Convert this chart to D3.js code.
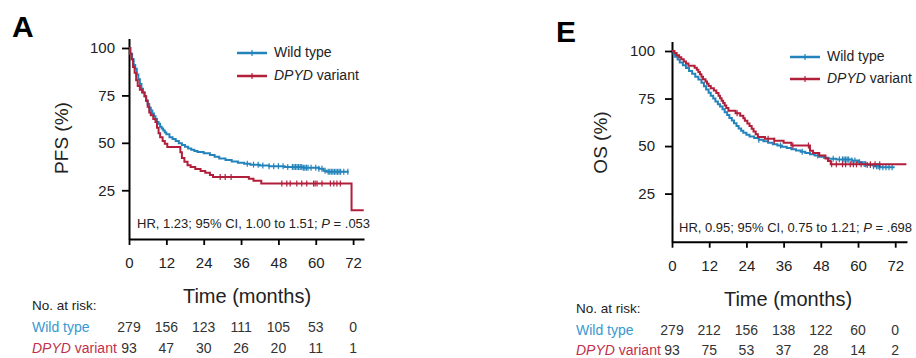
<!DOCTYPE html>
<html>
<head>
<meta charset="utf-8">
<script src="https://cdn.jsdelivr.net/npm/d3@7"></script>
<style>
  html, body { margin: 0; padding: 0; background: #fff; }
  svg { display: block; font-family: "Liberation Sans", Arial, Helvetica, sans-serif; }
</style>
</head>
<body>
<svg id="chart" width="916" height="358"></svg>
<script>
// Kaplan–Meier step points: [month, survival %]; the last pair is the end of follow-up.
const pfsWildSteps = [
  [0,100],[0.5,97],[1,94],[1.5,91],[2,89],[2.5,86],[3,83.5],[3.5,81],[4,78.5],[4.5,76.5],
  [5,74.5],[5.5,72.5],[6,70.5],[6.5,68.5],[7,67],[7.5,65.5],[8,64],[8.5,62.5],[9,61],[9.5,60],
  [10,58.5],[10.5,57.5],[11,56.5],[11.5,55.5],[12,54.5],[13,53],[14,52],[15,51],[16,49.8],[17,48.8],
  [18,47.9],[19,47],[20,46.3],[21,45.7],[22,45.2],[24,44.5],[26,43.6],[27.5,42.6],[29,41.8],[31,40.9],
  [33,40.2],[35,39.5],[37,39],[39,38.5],[42,38.1],[45,37.7],[50,37.3],[56,36.9],[61,36.4],[62.5,35.3],
  [63.5,34.7],[70.6,34.7]
];
const pfsVariantSteps = [
  [0,100],[0.3,97],[0.8,94],[1.3,90],[1.8,87],[2.3,83],[2.8,80],[3.5,78],[4.2,76.5],[5,74.5],
  [5.5,72],[6,69],[6.5,66],[7,64.5],[7.8,62.5],[8.5,61],[9,58],[9.5,55],[10,53],[10.8,51],
  [11.5,49.5],[12.3,47.8],[16.5,45],[17,42],[17.8,40],[18.8,38.2],[19.8,37.2],[21.3,36.2],[23,35.2],[24.5,34.2],
  [26,33],[27,32],[38.5,31],[40,30],[42.5,28.5],[71.5,14.4],[75.4,14.4]
];
const osWildSteps = [
  [0,100],[0.5,98.5],[1,97],[1.8,95.5],[2.5,94],[3.5,92.5],[4.5,91],[5.5,89.5],[6.5,88],[7.5,86.5],
  [8.5,85],[9.5,83.3],[10.3,81.5],[11,79.8],[11.8,78],[12.5,76.5],[13.3,75],[14,73.5],[14.8,72],[15.5,70.8],
  [16.3,69.3],[17,67.8],[17.8,66.3],[18.5,64.8],[19.3,63.5],[20,62],[20.8,60.5],[21.5,59.2],[22.3,58],[23,57],
  [24,56],[25,55],[26.5,54.2],[28,53.3],[29.5,52.5],[31,51.8],[32.5,51],[34,50.3],[35.5,49.6],[37,49],
  [38.5,48.3],[40,47.7],[41.5,47],[43,46.3],[44.5,45.7],[46,45],[47.5,44.4],[49,43.8],[50.5,43.3],[53,43],
  [58,42.4],[60,41.5],[61.5,40.6],[63,40],[65,39.4],[67,38.8],[71.8,38.8]
];
const osVariantSteps = [
  [0,100],[0.8,98.9],[1.5,97.8],[2.3,96.7],[3,95.6],[3.8,94.5],[4.5,93.4],[5.3,92.3],[7.3,91.2],[8,90.1],
  [8.5,88.9],[9,87.8],[9.5,86.5],[10,85.2],[10.8,84],[11.3,82.8],[11.8,81.6],[12.5,80.4],[13.5,79.2],[14.3,77.9],
  [15,76.5],[15.5,75.2],[16,73.9],[16.5,72.6],[17,71.3],[17.5,70],[18.2,68.6],[20.5,67.3],[22,66],[23,64.6],
  [23.5,63.3],[24.3,61.9],[25,60.5],[25.7,59.1],[26.3,57.7],[27,56.2],[27.7,54.8],[30,53.8],[33,52.8],[36,51.8],
  [38.5,50.3],[44.5,47.5],[45.5,46.3],[47.5,45],[49.5,43.5],[50.3,42.1],[51.2,40.4],[75.6,40.4]
];

// Censoring times (months)
const pfsWildCensor = [38,40,41.5,43,45,46.5,48,49.5,51,52.5,53,53.5,54,54.5,55,55.5,56,56.5,57,57.5,
  58.5,60,61,62,63,64,64.5,65,65.5,66,66.5,67,67.5,68,69,70.3];
const pfsVariantCensor = [29.3,30.9,32.8,49.1,50.7,51.8,53.9,55.5,57.1,59.3,59.8,60.4,62,64.7,65.8,66.8,67.9];
const osWildCensor = [28,35,42,47,52,54,55,55.5,56,56.5,57,58,59,60.5,62,63,64,65,66,66.5,67,68,69,70,71];
const osVariantCensor = [21,31,33,39,44,51.5,53,55,56,57.5,58.5,59.5,61,62.5,64,65.5,67];

const timeTicks = [0, 12, 24, 36, 48, 60, 72];
const survTicks = [25, 50, 75, 100];
const groupNames = ["Wild type", "DPYD variant"];
const pfsRiskWild = [279, 156, 123, 111, 105, 53, 0];
const pfsRiskVariant = [93, 47, 30, 26, 20, 11, 1];
const osRiskWild = [279, 212, 156, 138, 122, 60, 0];
const osRiskVariant = [93, 75, 53, 37, 28, 14, 2];
const pfsStats = { hr: "1.23", ci: "1.00 to 1.51", p: ".053" };
const osStats = { hr: "0.95", ci: "0.75 to 1.21", p: ".698" };

const BLUE = "#2383bb", RED = "#b11f3b";
const BLUE_TXT = "#3a98cf", RED_TXT = "#c0304b";
const INK = "#222";

const panels = [
  {
    letter: "A", letterPos: [12, 37], yLabel: "PFS (%)", yLabelPos: [68, 138],
    xDomain: [0, 75.5], xRange: [129, 364], yDomain: [-0.7, 105], yRange: [239, 38.5],
    xPad: 12, yPad: 7,
    wild: pfsWildSteps, variant: pfsVariantSteps, wildCensor: pfsWildCensor, variantCensor: pfsVariantCensor,
    legend: { x: 237, y: [53, 76] }, stats: pfsStats, statsPos: [137, 228],
    timeLabelPos: [247, 303], riskHeaderY: 310, riskRowsY: [332, 353], riskLabelX: 32,
    riskWild: pfsRiskWild, riskVariant: pfsRiskVariant
  },
  {
    letter: "E", letterPos: [556, 42], yLabel: "OS (%)", yLabelPos: [607, 142.5],
    xDomain: [0, 75.8], xRange: [672, 907], yDomain: [-0.3, 105], yRange: [241.7, 41.5],
    xPad: 13, yPad: 10,
    wild: osWildSteps, variant: osVariantSteps, wildCensor: osWildCensor, variantCensor: osVariantCensor,
    legend: { x: 790, y: [57, 79] }, stats: osStats, statsPos: [679, 231.5],
    timeLabelPos: [788, 306], riskHeaderY: 313, riskRowsY: [334.5, 354.5], riskLabelX: 576,
    riskWild: osRiskWild, riskVariant: osRiskVariant
  }
];

const svg = d3.select("#chart");

function valueAt(steps, t) {
  let v = steps[0][1];
  for (const [s, val] of steps) { if (s <= t) v = val; else break; }
  return v;
}

function groupLabel(sel, name, color) {
  // "DPYD" is set in italics
  if (name.startsWith("DPYD")) {
    sel.append("tspan").attr("font-style", "italic").attr("fill", color).text("DPYD");
    sel.append("tspan").attr("fill", color).text(name.slice(4));
  } else {
    sel.append("tspan").attr("fill", color).text(name);
  }
}

panels.forEach(p => {
  const g = svg.append("g");
  const x = d3.scaleLinear().domain(p.xDomain).range(p.xRange);
  const y = d3.scaleLinear().domain(p.yDomain).range(p.yRange);

  // panel letter
  g.append("text").attr("x", p.letterPos[0]).attr("y", p.letterPos[1])
    .attr("font-size", 30).attr("font-weight", "bold").attr("fill", "#000").text(p.letter);

  // axes
  const yAxis = g.append("g").attr("transform", `translate(${p.xRange[0]},0)`)
    .call(d3.axisLeft(y).tickValues(survTicks).tickSize(7).tickSizeOuter(0).tickPadding(p.yPad));
  const xAxis = g.append("g").attr("transform", `translate(0,${p.yRange[0]})`)
    .call(d3.axisBottom(x).tickValues(timeTicks).tickSize(6).tickSizeOuter(0).tickPadding(p.xPad));
  [yAxis, xAxis].forEach(a => {
    a.select(".domain").attr("stroke", "#000").attr("stroke-width", 2);
    a.selectAll(".tick line").attr("stroke", "#000").attr("stroke-width", 1.8);
    a.selectAll(".tick text").attr("fill", INK).attr("font-size", 15)
      .attr("font-family", "'Liberation Sans', Arial, sans-serif");
  });

  // y label
  g.append("text").attr("transform", `translate(${p.yLabelPos[0]},${p.yLabelPos[1]}) rotate(-90)`)
    .attr("text-anchor", "middle").attr("font-size", 19).attr("fill", INK).text(p.yLabel);

  // survival curves
  const line = d3.line().x(d => x(d[0])).y(d => y(d[1])).curve(d3.curveStepAfter);
  const series = [
    { steps: p.wild, censor: p.wildCensor, color: BLUE },
    { steps: p.variant, censor: p.variantCensor, color: RED }
  ];
  series.forEach(s => {
    g.append("path").datum(s.steps).attr("d", line)
      .attr("fill", "none").attr("stroke", s.color).attr("stroke-width", 2);
    g.selectAll(null).data(s.censor).join("line")
      .attr("x1", d => x(d)).attr("x2", d => x(d))
      .attr("y1", d => y(valueAt(s.steps, d)) - 3).attr("y2", d => y(valueAt(s.steps, d)) + 3)
      .attr("stroke", s.color).attr("stroke-width", 1.2);
  });

  // legend
  [BLUE, RED].forEach((c, i) => {
    const ly = p.legend.y[i];
    g.append("line").attr("x1", p.legend.x).attr("x2", p.legend.x + 30)
      .attr("y1", ly).attr("y2", ly).attr("stroke", c).attr("stroke-width", 2.5);
    g.append("line").attr("x1", p.legend.x + 15).attr("x2", p.legend.x + 15)
      .attr("y1", ly - 3).attr("y2", ly + 3).attr("stroke", c).attr("stroke-width", 1.2);
    const t = g.append("text").attr("x", p.legend.x + 37).attr("y", ly + 4)
      .attr("font-size", 14);
    groupLabel(t, groupNames[i], INK);
  });

  // hazard ratio annotation
  const st = g.append("text").attr("x", p.statsPos[0]).attr("y", p.statsPos[1])
    .attr("font-size", 13).attr("fill", INK);
  st.append("tspan").text(`HR, ${p.stats.hr}; 95% CI, ${p.stats.ci}; `);
  st.append("tspan").attr("font-style", "italic").text("P");
  st.append("tspan").text(` = ${p.stats.p}`);

  // x label
  g.append("text").attr("x", p.timeLabelPos[0]).attr("y", p.timeLabelPos[1])
    .attr("text-anchor", "middle").attr("font-size", 20).attr("fill", INK).text("Time (months)");

  // number at risk table
  g.append("text").attr("x", p.riskLabelX).attr("y", p.riskHeaderY)
    .attr("font-size", 13.5).attr("fill", INK).text("No. at risk:");
  const rows = [
    { name: groupNames[0], color: BLUE_TXT, counts: p.riskWild },
    { name: groupNames[1], color: RED_TXT, counts: p.riskVariant }
  ];
  rows.forEach((r, i) => {
    const ry = p.riskRowsY[i];
    const lt = g.append("text").attr("x", p.riskLabelX).attr("y", ry).attr("font-size", 14);
    groupLabel(lt, r.name, r.color);
    g.selectAll(null).data(r.counts).join("text")
      .attr("x", (d, k) => x(timeTicks[k])).attr("y", ry)
      .attr("text-anchor", "middle").attr("font-size", 14).attr("fill", "#333")
      .text(d => d);
  });
});
</script>
</body>
</html>
